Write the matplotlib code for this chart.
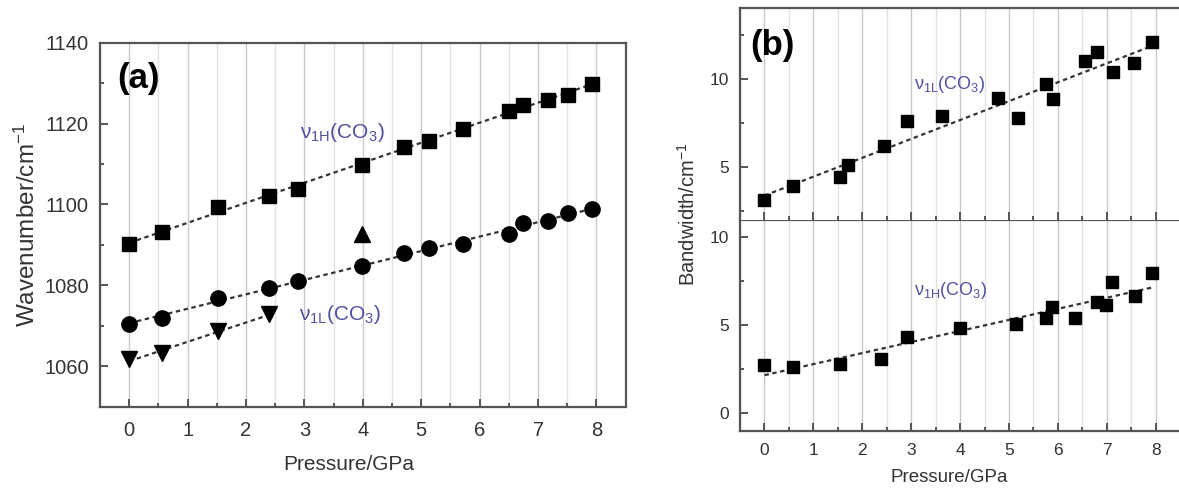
import numpy as np
import matplotlib
matplotlib.use("Agg")
import matplotlib.pyplot as plt
from matplotlib.ticker import MultipleLocator

plt.rcParams['font.family'] = ['Liberation Sans', 'DejaVu Sans']
plt.rcParams['mathtext.fontset'] = 'custom'
plt.rcParams['mathtext.rm'] = 'Liberation Sans'
plt.rcParams['mathtext.it'] = 'Liberation Sans:italic'

# ---- Panel (a) data: wavenumber vs pressure ----
p_v1h = [0.0, 0.57, 1.52, 2.40, 2.89, 3.99, 4.70, 5.13, 5.71, 6.51, 6.74, 7.17, 7.51, 7.92]
w_v1h = [1090.3, 1093.2, 1099.4, 1102.2, 1103.9, 1109.8, 1114.2, 1115.7, 1118.7, 1123.0,
         1124.7, 1125.9, 1127.1, 1129.8]
p_v1l = [0.0, 0.57, 1.52, 2.40, 2.89, 3.99, 4.70, 5.13, 5.71, 6.51, 6.74, 7.17, 7.51, 7.92]
w_v1l = [1070.4, 1072.0, 1076.9, 1079.4, 1081.2, 1084.7, 1088.0, 1089.3, 1090.3, 1092.7,
         1095.4, 1096.0, 1097.9, 1098.9]
p_low = [0.0, 0.57, 1.52, 2.40]
w_low = [1061.8, 1063.2, 1068.7, 1072.8]
p_up = [3.99]
w_up = [1092.7]

# ---- Panel (b) data: bandwidth vs pressure ----
p_bw_l = [0.0, 0.58, 1.54, 1.71, 2.45, 2.91, 3.63, 4.77, 5.18, 5.76, 5.90, 6.55, 6.79,
          7.12, 7.55, 7.92]
bw_l = [3.1, 3.9, 4.4, 5.1, 6.15, 7.6, 7.9, 8.9, 7.75, 9.7, 8.85, 11.0, 11.5, 10.4, 10.9, 12.1]
p_bw_h = [0.0, 0.58, 1.55, 2.38, 2.91, 4.0, 5.15, 5.75, 5.88, 6.34, 6.8, 6.98, 7.1, 7.57, 7.92]
bw_h = [2.72, 2.62, 2.81, 3.10, 4.30, 4.81, 5.04, 5.43, 6.04, 5.43, 6.32, 6.17, 7.46, 6.65, 7.98]

xticks = [0, 1, 2, 3, 4, 5, 6, 7, 8]

label_col = '#4f4f9e'
spine_col = '#555555'
fit_style = dict(color='#333333', lw=1.6, linestyle=(0, (2.0, 1.6)), zorder=2)


def fitline(ax, x, y):
    c = np.polyfit(x, y, 1)
    xx = np.array([min(x), max(x)])
    ax.plot(xx, np.polyval(c, xx), **fit_style)


def style(ax, fs, xpad, ypad):
    for s in ax.spines.values():
        s.set_color(spine_col)
        s.set_linewidth(1.6)
    ax.set_xlim(-0.5, 8.5)
    ax.xaxis.set_major_locator(MultipleLocator(1))
    ax.xaxis.set_minor_locator(MultipleLocator(0.5))
    ax.grid(True, axis='x', which='major', color='#c8c8c8', lw=1.0, zorder=0)
    ax.grid(True, axis='x', which='minor', color='#e2e2e2', lw=1.0, zorder=0)
    ax.tick_params(which='both', direction='in', top=False, right=False,
                   color=spine_col, width=1.4, labelsize=fs, labelcolor='#333333')
    ax.tick_params(which='major', length=6)
    ax.tick_params(which='minor', length=3)
    ax.tick_params(axis='x', which='major', pad=xpad)
    ax.tick_params(axis='y', which='major', pad=ypad)
    ax.set_axisbelow(True)


fig = plt.figure(figsize=(11.79, 4.90), dpi=100)

# ---------- panel (a) ----------
axa = fig.add_axes([100 / 1179, 1 - 406.7 / 490, 525.7 / 1179, 364 / 490])
style(axa, 14.5, 10, 8)
axa.set_ylim(1050, 1140)
axa.yaxis.set_major_locator(MultipleLocator(20))
axa.yaxis.set_minor_locator(MultipleLocator(10))
axa.set_xticks(xticks)
ms = 10
axa.plot(p_v1h, w_v1h, 's', color='black', ms=ms, zorder=3)
axa.plot(p_v1l, w_v1l, 'o', color='black', ms=ms + 1, zorder=3)
axa.plot(p_low, w_low, 'v', color='black', ms=ms + 1, zorder=3)
axa.plot(p_up, w_up, '^', color='black', ms=ms + 1, zorder=3)
fitline(axa, p_v1h, w_v1h)
fitline(axa, p_v1l, w_v1l)
fitline(axa, p_low, w_low)
axa.text(2.92, 1116.5, r'ν$_{\mathrm{1H}}$(CO$_3$)', color=label_col, fontsize=15)
axa.text(2.9, 1071.5, r'ν$_{\mathrm{1L}}$(CO$_3$)', color=label_col, fontsize=15)
axa.text(0.032, 0.947, '(a)', transform=axa.transAxes, fontsize=25, fontweight='bold',
         va='top', ha='left')
axa.set_xlabel('Pressure/GPa', fontsize=15, color='#333333')
axa.xaxis.set_label_coords(0.474, -0.132)
axa.set_ylabel('Wavenumber/cm$^{-1}$', fontsize=17.5, color='#333333', labelpad=3)

# ---------- panel (b) ----------
bl = 740 / 1179
bw = 1 - bl + 0.001
ph = 211.2 / 490
axb2 = fig.add_axes([bl, 1 - 430.7 / 490, bw, ph])
axb1 = fig.add_axes([bl, 1 - 430.7 / 490 + ph, bw, ph], sharex=axb2)
for ax in (axb1, axb2):
    style(ax, 12.5, 9, 8)
    ax.set_xticks(xticks)
    ax.yaxis.set_major_locator(MultipleLocator(5))
    ax.yaxis.set_minor_locator(MultipleLocator(2.5))
axb1.set_ylim(2, 14)
axb2.set_ylim(-1, 11)
axb1.tick_params(labelbottom=False)
axb1.spines['bottom'].set_visible(False)

axb1.plot(p_bw_l, bw_l, 's', color='black', ms=9, zorder=3)
fitline(axb1, p_bw_l, bw_l)
axb2.plot(p_bw_h, bw_h, 's', color='black', ms=9, zorder=3)
fitline(axb2, p_bw_h, bw_h)

axb1.text(3.05, 9.4, r'ν$_{\mathrm{1L}}$(CO$_3$)', color=label_col, fontsize=13)
axb2.text(3.05, 6.7, r'ν$_{\mathrm{1H}}$(CO$_3$)', color=label_col, fontsize=13)
axb1.text(0.023, 0.90, '(b)', transform=axb1.transAxes, fontsize=25, fontweight='bold',
          va='top', ha='left')
axb2.set_xlabel('Pressure/GPa', fontsize=13.5, color='#333333')
axb2.xaxis.set_label_coords(0.475, -0.18)
fig.text(0.583, 0.563, 'Bandwidth/cm$^{-1}$', rotation=90, fontsize=14.5, color='#333333',
         ha='center', va='center')

fig.savefig('out.png', dpi=100)
